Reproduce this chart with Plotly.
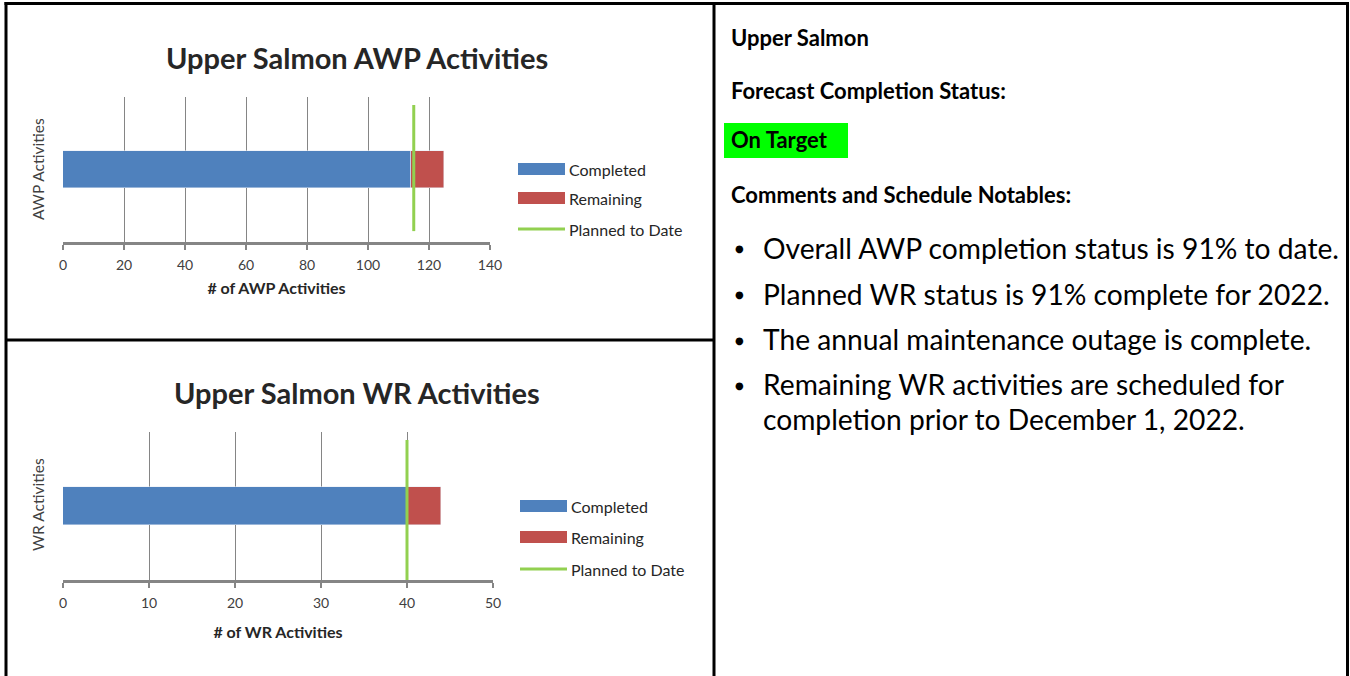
import plotly.graph_objects as go

# ---------------- data ----------------
awp_series = ["Completed", "Remaining"]
awp_values = [114, 11]
awp_planned = 115
wr_values = [40, 4]
wr_planned = 40
awp_ticks = [0, 20, 40, 60, 80, 100, 120, 140]
wr_ticks = [0, 10, 20, 30, 40, 50]
bullets = [
    "Overall AWP completion status is 91% to date.",
    "Planned WR status is 91% complete for 2022.",
    "The annual maintenance outage is complete.",
    "Remaining WR activities are scheduled for",
]
bullet_cont = "completion prior to December 1, 2022."

# ---------------- style ----------------
W, H = 1350, 676
BLUE, RED, GREEN = "#4F81BD", "#C0504D", "#92D050"
GRID = "#858585"
FONT = "Lato"


def px(x):
    return x / W


def py(y):
    return 1 - y / H


fig = go.Figure()

# top chart traces
fig.add_trace(go.Bar(x=[awp_values[0]], y=[0], orientation="h", marker_color=BLUE,
                     width=0.253, name=awp_series[0], xaxis="x", yaxis="y", showlegend=False))
fig.add_trace(go.Bar(x=[awp_values[1]], y=[0], orientation="h", marker_color=RED,
                     width=0.253, name=awp_series[1], xaxis="x", yaxis="y", showlegend=False))
fig.add_trace(go.Scatter(x=[awp_planned, awp_planned], y=[-0.425, 0.445], mode="lines",
                         line=dict(color=GREEN, width=3), name="Planned to Date",
                         xaxis="x", yaxis="y", showlegend=False))
# bottom chart traces
fig.add_trace(go.Bar(x=[wr_values[0]], y=[0], orientation="h", marker_color=BLUE,
                     width=0.257, name=awp_series[0], xaxis="x2", yaxis="y2", showlegend=False))
fig.add_trace(go.Bar(x=[wr_values[1]], y=[0], orientation="h", marker_color=RED,
                     width=0.257, name=awp_series[1], xaxis="x2", yaxis="y2", showlegend=False))
fig.add_trace(go.Scatter(x=[wr_planned, wr_planned], y=[-0.5, 0.446], mode="lines",
                         line=dict(color=GREEN, width=3), name="Planned to Date",
                         xaxis="x2", yaxis="y2", showlegend=False))

xcommon = dict(showgrid=True, gridcolor=GRID, gridwidth=1.3, zeroline=False,
               showline=True, linecolor=GRID, linewidth=2.5, ticks="outside",
               ticklen=5, tickcolor=GRID, tickwidth=1.5, automargin=False,
               tickfont=dict(family=FONT, size=14, color="#404040"),
               ticklabelstandoff=3, fixedrange=True)
ycommon = dict(range=[-0.5, 0.5], showticklabels=False, showgrid=False, zeroline=False,
               showline=False, fixedrange=True, automargin=False)

fig.update_layout(
    width=W, height=H, margin=dict(l=0, r=0, t=0, b=0, autoexpand=False),
    paper_bgcolor="white", plot_bgcolor="white", barmode="stack", bargap=0,
    font=dict(family=FONT),
    xaxis=dict(domain=[px(63), px(490)], range=[0, 140], tickvals=awp_ticks, anchor="y",
               title=dict(text="<b># of AWP Activities</b>", standoff=12,
                          font=dict(family=FONT, size=16, color="#262626")), **xcommon),
    yaxis=dict(domain=[py(242), py(97)], anchor="x", **ycommon),
    xaxis2=dict(domain=[px(63), px(493)], range=[0, 50], tickvals=wr_ticks, anchor="y2",
                title=dict(text="<b># of WR Activities</b>", standoff=18,
                           font=dict(family=FONT, size=16, color="#262626")), **xcommon),
    yaxis2=dict(domain=[py(580), py(432)], anchor="x2", **ycommon),
)

shapes = []
annotations = []

# table borders
LW = 3
shapes.append(dict(type="line", xref="paper", yref="paper", x0=px(6), x1=px(6), y0=py(2), y1=0,
                   line=dict(color="black", width=LW)))
shapes.append(dict(type="line", xref="paper", yref="paper", x0=px(4.5), x1=px(1349), y0=py(3.5), y1=py(3.5),
                   line=dict(color="black", width=LW)))
shapes.append(dict(type="line", xref="paper", yref="paper", x0=px(1347.5), x1=px(1347.5), y0=py(2), y1=0,
                   line=dict(color="black", width=LW)))
shapes.append(dict(type="line", xref="paper", yref="paper", x0=px(714), x1=px(714), y0=py(2), y1=0,
                   line=dict(color="black", width=LW)))
shapes.append(dict(type="line", xref="paper", yref="paper", x0=px(5), x1=px(714), y0=py(340), y1=py(340),
                   line=dict(color="black", width=LW)))

# chart titles
annotations.append(dict(text="<b>Upper Salmon AWP Activities</b>", x=px(357), y=py(58),
                        xref="paper", yref="paper", showarrow=False, xanchor="center", yanchor="middle",
                        font=dict(family=FONT, size=29, color="#262626")))
annotations.append(dict(text="<b>Upper Salmon WR Activities</b>", x=px(357), y=py(392),
                        xref="paper", yref="paper", showarrow=False, xanchor="center", yanchor="middle",
                        font=dict(family=FONT, size=29, color="#262626")))

# y-axis titles (rotated)
annotations.append(dict(text="AWP Activities", x=px(38), y=py(169), xref="paper", yref="paper",
                        showarrow=False, textangle=-90, xanchor="center", yanchor="middle",
                        font=dict(family=FONT, size=15.5, color="#404040")))
annotations.append(dict(text="WR Activities", x=px(38), y=py(505), xref="paper", yref="paper",
                        showarrow=False, textangle=-90, xanchor="center", yanchor="middle",
                        font=dict(family=FONT, size=15.5, color="#404040")))


# manual legends
def legend(x0, ys):
    labels = [awp_series[0], awp_series[1], "Planned to Date"]
    colors = [BLUE, RED, GREEN]
    for i, (lab, col, yy) in enumerate(zip(labels, colors, ys)):
        if i < 2:
            shapes.append(dict(type="rect", xref="paper", yref="paper", x0=px(x0), x1=px(x0 + 47),
                               y0=py(yy + 6), y1=py(yy - 6), fillcolor=col, line=dict(width=0)))
        else:
            shapes.append(dict(type="line", xref="paper", yref="paper", x0=px(x0), x1=px(x0 + 47),
                               y0=py(yy), y1=py(yy), line=dict(color=col, width=3)))
        annotations.append(dict(text=lab, x=px(x0 + 49), y=py(yy), xref="paper", yref="paper",
                                showarrow=False, xanchor="left", yanchor="middle",
                                font=dict(family=FONT, size=16, color="#262626")))


legend(518, [169, 198, 229])
legend(520, [506, 537, 569])

# right panel text
TX = 729
TSIZE = 22
for txt, yy in [("Upper Salmon", 37), ("Forecast Completion Status:", 90),
                ("Comments and Schedule Notables:", 195)]:
    annotations.append(dict(text="<b>" + txt + "</b>", x=px(TX), y=py(yy), xref="paper", yref="paper",
                            showarrow=False, xanchor="left", yanchor="middle",
                            font=dict(family=FONT, size=TSIZE, color="black")))
shapes.append(dict(type="rect", xref="paper", yref="paper", x0=px(724), x1=px(848), y0=py(158), y1=py(123),
                   fillcolor="#00FF00", line=dict(width=0), layer="below"))
annotations.append(dict(text="<b>On Target</b>", x=px(TX), y=py(140), xref="paper", yref="paper",
                        showarrow=False, xanchor="left", yanchor="middle",
                        font=dict(family=FONT, size=TSIZE, color="black")))
BSIZE = 28.2
for txt, yy in zip(bullets, [248, 294, 339, 384]):
    annotations.append(dict(text="●", x=px(739), y=py(yy + 1), xref="paper", yref="paper",
                            showarrow=False, xanchor="center", yanchor="middle",
                            font=dict(family="DejaVu Sans", size=10, color="black")))
    annotations.append(dict(text=txt, x=px(761), y=py(yy), xref="paper", yref="paper",
                            showarrow=False, xanchor="left", yanchor="middle",
                            font=dict(family=FONT, size=BSIZE, color="black")))
annotations.append(dict(text=bullet_cont, x=px(761), y=py(419), xref="paper", yref="paper",
                        showarrow=False, xanchor="left", yanchor="middle",
                        font=dict(family=FONT, size=BSIZE, color="black")))

fig.update_layout(shapes=shapes, annotations=annotations)
fig.write_html(
    "out.html",
    config={"displayModeBar": False},
    post_script=("document.body.style.margin='0px';"
                 "document.body.style.overflow='hidden';"
                 "document.documentElement.style.overflow='hidden';"),
)
